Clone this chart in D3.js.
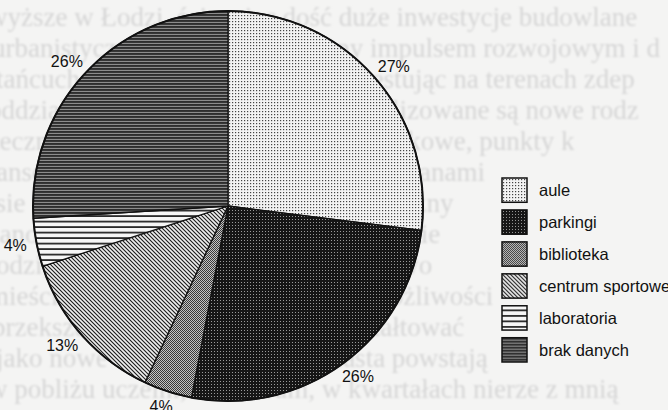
<!DOCTYPE html>
<html><head><meta charset="utf-8">
<script src="https://cdn.jsdelivr.net/npm/d3@7"></script>
<style>html,body{margin:0;padding:0;background:#f4f4f3;} svg{display:block}</style>
</head><body><svg id="c" width="668" height="410"></svg>
<script>
const categories = ["aule", "parkingi", "biblioteka", "centrum sportowe", "laboratoria", "brak danych"];
const values = [27, 26, 4, 13, 4, 26];
const valueLabels = ["27%", "26%", "4%", "13%", "4%", "26%"];
const pageLines = [
  "wyższe w Łodzi, ściągając dość duże inwestycje budowlane",
  "urbanistycznym, stanowiąc ważny impulsem rozwojowym i d",
  "tańcuch, ośrodki akademickie, inwestując na terenach zdep",
  "oddziaływania uczelni, w których realizowane są nowe rodz",
  "teczne, prywatne uczelnie, szkoły językowe, punkty k",
  "ansowanie uczelni wyższe w Łodzi organami",
  "isie ich rozwój, uczelni jest ubardzo ważny",
  "lanowania przestrzennego akształtowanie",
  "odzi, których rozwój łączy się z a rozwo",
  "mieście i przestrzeni budowlanych możliwości",
  "przekształceń, estetyki, n mogą kształtować",
  "jako nowe obiekty na terenie miasta powstają",
  "w pobliżu uczelni, w centrum, w kwartałach nierze z mnią"
];

const W = 668, H = 410;
const svg = d3.select("#c");
const defs = svg.append("defs");

// background page (scan bleed-through)
defs.append("filter").attr("id", "blur").append("feGaussianBlur").attr("stdDeviation", 1.2);
svg.append("g").attr("filter", "url(#blur)")
  .selectAll("text").data(pageLines).join("text")
  .attr("x", (d, i) => -12 + (i % 3) * 4)
  .attr("y", (d, i) => 26 + i * 31)
  .attr("font-family", "'Liberation Serif', 'DejaVu Serif', serif")
  .attr("font-size", 27)
  .attr("fill", "#d6d6d6")
  .text(d => d);

function pat(id, w, h, bg, draw) {
  const p = defs.append("pattern").attr("id", id)
    .attr("patternUnits", "userSpaceOnUse").attr("width", w).attr("height", h);
  p.append("rect").attr("width", w).attr("height", h).attr("fill", bg);
  draw(p);
}
pat("p0", 3, 3, "#f3f3f3", p => p.append("rect").attr("x", 1).attr("y", 1).attr("width", 1.2).attr("height", 1.2).attr("fill", "#444"));
pat("p1", 3, 3, "#161616", p => p.append("rect").attr("x", 1).attr("y", 1).attr("width", 1).attr("height", 1).attr("fill", "#9a9a9a"));
pat("p2", 2, 2, "#c4c4c4", p => {
  p.append("rect").attr("x", 0).attr("y", 0).attr("width", 1).attr("height", 1).attr("fill", "#3a3a3a");
  p.append("rect").attr("x", 1).attr("y", 1).attr("width", 1).attr("height", 1).attr("fill", "#3a3a3a");
});
pat("p3", 4, 4, "#eeeeee", p => p.append("path").attr("d", "M0,0L4,4M-1,3L1,5M3,-1L5,1").attr("stroke", "#1a1a1a").attr("stroke-width", 1.1));
pat("p4", 4, 5.5, "#f6f6f6", p => p.append("rect").attr("x", 0).attr("y", 3.8).attr("width", 4).attr("height", 1.6).attr("fill", "#111"));
pat("p5", 4, 3, "#8c8c8c", p => p.append("rect").attr("x", 0).attr("y", 0).attr("width", 4).attr("height", 1.9).attr("fill", "#2e2e2e"));

const cx = 228, cy = 206, r = 195;
const pie = d3.pie().sort(null).value(d => d)(values);
const arc = d3.arc().innerRadius(0).outerRadius(r);
const labelR = r + 10;

const g = svg.append("g").attr("transform", `translate(${cx},${cy})`);
g.selectAll("path.slice").data(pie).join("path")
  .attr("class", "slice")
  .attr("d", arc)
  .attr("fill", (d, i) => `url(#p${i})`)
  .attr("stroke", "#111").attr("stroke-width", 1.3).attr("stroke-linejoin", "round");
g.append("circle").attr("r", r).attr("fill", "none").attr("stroke", "#111").attr("stroke-width", 2);

// outside-end labels: box placed just outside the rim along the slice's mid-angle
g.selectAll("text.lbl").data(pie).join("text")
  .attr("class", "lbl")
  .attr("text-anchor", "middle").attr("dominant-baseline", "central")
  .attr("font-family", "'Liberation Sans', Arial, sans-serif")
  .attr("font-size", 16).attr("fill", "#111")
  .text((d, i) => valueLabels[i])
  .each(function(d) {
    const a = (d.startAngle + d.endAngle) / 2;
    const w = this.getComputedTextLength(), h = 12;
    const sx = Math.sin(a), sy = -Math.cos(a);
    const x = sx * labelR + sx * w / 2;
    const y = sy * labelR + sy * h / 2;
    d3.select(this).attr("transform", `translate(${x},${y})`);
  });

// legend
const ly = d3.scaleBand().domain(categories).range([178, 362]).paddingInner(0.24);
const lg = svg.append("g").selectAll("g").data(categories).join("g")
  .attr("transform", d => `translate(502,${ly(d)})`);
lg.append("rect").attr("width", 25).attr("height", ly.bandwidth())
  .attr("fill", (d, i) => `url(#p${i})`).attr("stroke", "#111").attr("stroke-width", 1.5);
lg.append("text").attr("x", 37).attr("y", ly.bandwidth() / 2)
  .attr("dominant-baseline", "central")
  .attr("font-family", "'Liberation Sans', Arial, sans-serif")
  .attr("font-size", 16.5).attr("fill", "#111")
  .text(d => d);
</script></body></html>
